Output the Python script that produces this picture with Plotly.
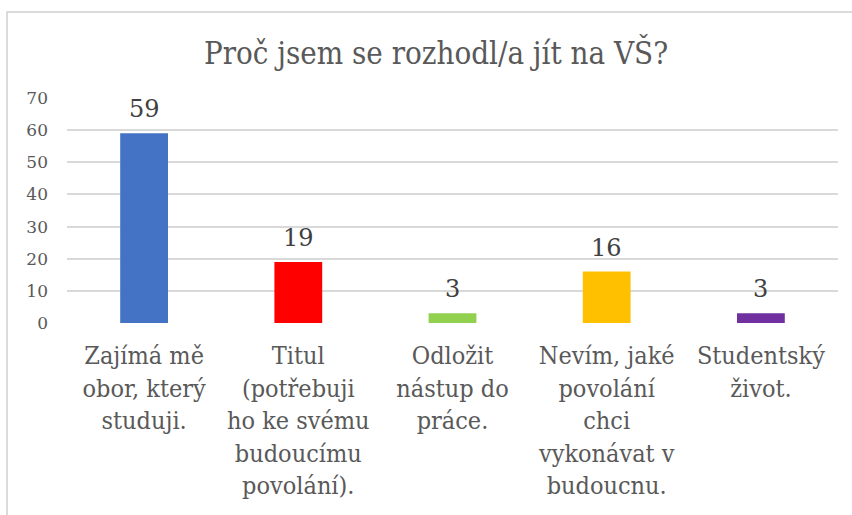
import plotly.graph_objects as go

categories = [
    "Zajímá mě<br>obor, který<br>studuji.",
    "Titul<br>(potřebuji<br>ho ke svému<br>budoucímu<br>povolání).",
    "Odložit<br>nástup do<br>práce.",
    "Nevím, jaké<br>povolání<br>chci<br>vykonávat v<br>budoucnu.",
    "Studentský<br>život.",
]
values = [59, 19, 3, 16, 3]
colors = ["#4472C4", "#FF0000", "#92D050", "#FFC000", "#7030A0"]
y_ticks = [0, 10, 20, 30, 40, 50, 60, 70]
title_text = "Proč jsem se rozhodl/a jít na VŠ?"

FONT = "DejaVu Serif"
CFONT = "DejaVu Serif Condensed, DejaVu Serif"
GREY = "#595959"

W, H = 852, 515
ml, mr, mt, mb = 67, 14, 98, 192
pw = W - ml - mr
ph = H - mt - mb

fig = go.Figure()
fig.add_trace(go.Bar(
    x=categories, y=values, marker_color=colors, marker_line_width=0,
    hoverinfo="x+y",
))

for c, v in zip(categories, values):
    fig.add_annotation(x=c, y=v, text=str(v), showarrow=False,
                       yanchor="bottom", yshift=8,
                       font=dict(family=FONT, size=24, color="#404040"))

# outer chart border
fig.add_shape(type="rect", xref="paper", yref="paper",
              x0=(7 - ml) / pw, x1=(W + 5 - ml) / pw,
              y0=(mt + ph - (H + 5)) / ph, y1=(mt + ph - 12) / ph,
              line=dict(color="#d0d0d0", width=1.5), fillcolor="rgba(0,0,0,0)",
              layer="below")

fig.update_layout(
    width=W, height=H,
    margin=dict(l=ml, r=mr, t=mt, b=mb),
    paper_bgcolor="white", plot_bgcolor="white",
    bargap=0.69,
    showlegend=False,
    title=dict(text=title_text, x=436 / W, xanchor="center", y=1 - 53 / H, yanchor="middle",
               font=dict(family=CFONT, size=31, color=GREY)),
    font=dict(family=FONT, color=GREY),
    xaxis=dict(tickfont=dict(family=CFONT, size=25, color=GREY), showgrid=False,
               showline=False, ticks="", fixedrange=True, ticklabelstandoff=15),
    yaxis=dict(range=[0, 70], tickvals=y_ticks, showgrid=True, gridcolor="#d9d9d9",
               gridwidth=1.5, zeroline=False, showline=False, ticks="", fixedrange=True,
               tickfont=dict(family=FONT, size=17, color=GREY), ticklabelstandoff=18),
)

fig.write_html("out.html", config={"displayModeBar": False},
               post_script="document.body.style.margin='0';")
